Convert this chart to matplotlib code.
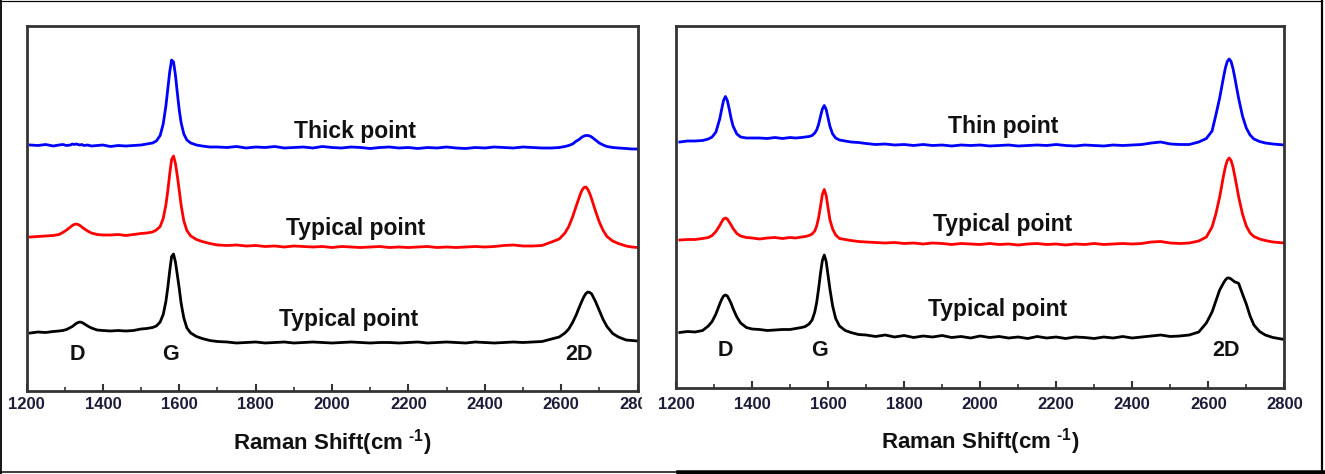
import matplotlib
matplotlib.use("Agg")
import matplotlib.pyplot as plt
from matplotlib.lines import Line2D
from matplotlib.ticker import MultipleLocator
from matplotlib.transforms import Bbox, TransformedBbox

# Raman shift grid (cm-1), denser around the D, G and 2D bands
raman_shift = [
    1210, 1230, 1250, 1270, 1285, 1295, 1305, 1315, 1320, 1325, 1330, 1335,
    1340, 1345, 1350, 1360, 1370, 1385, 1400, 1420, 1440, 1460, 1480,
    1500, 1515, 1530, 1540, 1550, 1558, 1565, 1570, 1575, 1580, 1585, 1590,
    1595, 1600, 1605, 1612, 1620, 1630, 1645, 1660, 1680,
    1700, 1725, 1750, 1775, 1800, 1825, 1850, 1875, 1900, 1925, 1950, 1975,
    2000, 2025, 2050, 2075, 2100, 2125, 2150, 2175, 2200, 2225, 2250, 2275,
    2300, 2325, 2350, 2375, 2400, 2425, 2450, 2475, 2500, 2525, 2550,
    2575, 2595, 2610, 2620, 2630, 2640, 2645, 2650, 2655, 2660, 2665, 2670,
    2675, 2680, 2690, 2700, 2710, 2720, 2735, 2750, 2770, 2785, 2800,
]

# left panel (stacked, arbitrary units)
left_thick = [
    246, 245.5, 246.5, 245, 246, 246.5, 245.5, 246, 247, 246.5, 247, 246.5,
    246, 246.5, 245.5, 246, 245, 245.5, 246, 244.5, 245.5, 245, 245.5,
    246, 247, 248, 250, 255.5, 267, 285, 302, 319, 331, 329, 316,
    298, 281, 268, 257, 251, 248, 246, 245, 244,
    244, 243.5, 244.5, 243, 244, 243.5, 244.5, 243, 243.5, 244, 243, 244.5,
    243.5, 243, 244, 243.5, 242.5, 243.5, 244, 243, 243.5, 242.5, 243.5, 243,
    244, 243, 242.5, 243.5, 243, 244, 243.5, 243, 244, 243.5, 243,
    243, 243.5, 244.5, 245.5, 247, 250, 251, 252.5, 254, 255, 255.5, 255.5,
    255, 254, 251, 248, 246, 244.5, 243.5, 243, 242.5, 242, 242,
]
left_typical_red = [
    154, 154.5, 155, 155.5, 156.5, 158.5, 161, 164, 165.5, 166.5, 167, 166.5,
    165.5, 164, 162.5, 160, 158, 156.5, 156, 156, 156.5, 155.5, 156.5,
    157.5, 158, 159, 161, 164.5, 172.5, 186, 200, 217, 231.5, 235, 227.5,
    215, 200.5, 185.5, 170, 160.5, 155, 151.5, 149.5, 147.5,
    146, 145.5, 146, 145, 145.5, 144.5, 145, 144, 145, 144.5, 144, 144.5,
    143.5, 144.5, 144, 143.5, 144, 144.5, 143.5, 144, 143.5, 144, 144.5, 143.5,
    144, 143.5, 144, 144.5, 144, 144.5, 145.5, 146, 145, 145, 145.5,
    149, 152, 158, 164.5, 174, 185.5, 191, 196.5, 201, 203.5, 204, 201.5,
    197.5, 192, 180, 169, 160.5, 154.5, 150, 147.5, 145, 144, 143.5,
]
left_typical_black = [
    58, 59, 58.5, 59.5, 60, 60.5, 61.5, 63.5, 64.5, 66, 67.5, 68.5,
    69, 68.5, 67.5, 65, 63, 61, 60.5, 60, 60.5, 60, 60.5,
    62, 62.5, 63.5, 65, 69, 76.5, 89.5, 103.5, 120, 134.5, 137, 129,
    116, 102.5, 87.5, 73, 63, 58, 54.5, 52.5, 50.5,
    49.5, 49, 48, 48.5, 49, 48, 48.5, 49, 48, 48.5, 49, 48.5,
    48, 48.5, 49, 48.5, 48, 48.5, 48.5, 48, 48.5, 49, 48, 48.5,
    49, 48.5, 48, 49, 48.5, 48, 48.5, 49, 48.5, 49, 49.5,
    52, 54, 58, 62, 68.5, 76.5, 81.5, 86, 90.5, 94.5, 97.5, 99,
    98.5, 97, 89.5, 80.5, 71.5, 64.5, 57.5, 54, 51, 50.5, 50,
]

# right panel
right_thin = [
    246, 247, 247, 247.5, 249, 251, 256, 269, 278.5, 287.5, 291.5, 287.5,
    279, 269.5, 262, 254, 251, 250, 250, 250, 249.5, 250.5, 249.5,
    250.5, 250, 250.5, 251, 251.5, 252.5, 255, 258, 263.5, 271.5, 279, 282.5,
    278.5, 270, 261.5, 254, 250, 248, 247, 246, 245.5,
    244.5, 243.5, 244, 243, 243.5, 242.5, 243.5, 242.5, 243, 242, 243, 242.5,
    243, 242, 242.5, 243, 242, 242.5, 243, 242.5, 243.5, 242.5, 242, 243,
    242.5, 242, 243, 242.5, 243, 243.5, 245, 246, 244, 243.5, 243.5,
    246, 249.5, 257, 273, 290, 310.5, 320, 326.5, 329, 326.5, 319.5, 310,
    299.5, 289.5, 272, 260, 253, 249, 246.5, 245, 244, 243.5, 243,
]
right_typical_red = [
    148, 148.5, 148.5, 149.5, 150.5, 152.5, 156.5, 162.5, 166, 169, 170, 169,
    166, 163, 159.5, 154.5, 152, 150.5, 150, 149, 150, 150.5, 149.5,
    150.5, 150, 151, 151.5, 152.5, 154, 157, 162, 170, 181.5, 193.5, 198.5,
    192.5, 180, 168, 159, 153, 149.5, 148.5, 147.5, 146.5,
    146, 145.5, 145, 145.5, 144.5, 145, 144, 145, 144.5, 143.5, 144.5, 144,
    143.5, 144.5, 143.5, 144, 143, 144, 144.5, 143.5, 144, 143, 144, 143.5,
    144.5, 143.5, 144, 144.5, 144, 144.5, 146, 146.5, 145, 144.5, 145,
    147, 151, 161, 174, 191, 212, 221, 227.5, 230, 227.5, 221, 211.5,
    201.5, 191, 174, 162, 155, 151.5, 149, 147.5, 146, 145.5, 145,
]
right_typical_black = [
    55.5, 56.5, 56, 57.5, 62, 66.5, 74, 84, 88.5, 92, 93, 92,
    88.5, 84.5, 79.5, 71, 65, 60.5, 59, 58.5, 57.5, 58, 58.5,
    58.5, 59.5, 60.5, 61.5, 64, 68, 76, 85.5, 99, 114.5, 127.5, 133,
    126.5, 112.5, 98.5, 82, 69.5, 62, 57.5, 55.5, 53.5,
    53, 51.5, 53, 51, 52.5, 50.5, 52, 51, 52.5, 50.5, 51.5, 50,
    52, 50.5, 51.5, 50, 51, 49.5, 51.5, 50, 51, 49.5, 51, 50.5,
    49.5, 51, 50, 51.5, 50, 51, 52, 53, 51.5, 52, 53,
    56, 65, 76, 87, 98, 105, 108, 110, 110, 109, 107.5, 106,
    105.5, 104.5, 94, 84, 72, 63, 56.5, 53, 50.5, 49.5, 48.5,
]

left_names = ["Thick point", "Typical point", "Typical point"]
right_names = ["Thin point", "Typical point", "Typical point"]
band_names = ["D", "G", "2D"]
x_ticks = [1200, 1400, 1600, 1800, 2000, 2200, 2400, 2600, 2800]

plt.rcParams['font.family'] = ['Liberation Sans', 'DejaVu Sans']
plt.rcParams['font.weight'] = 'bold'
plt.rcParams['mathtext.fontset'] = 'custom'
plt.rcParams['mathtext.rm'] = 'Liberation Sans:bold'
plt.rcParams['mathtext.bf'] = 'Liberation Sans:bold'
plt.rcParams['mathtext.default'] = 'bf'

TEXT = '#111111'
TICK_TEXT = '#1c1c3a'


def drawPanel(ax, curves, names, name_pos, band_pos, top, pad, label_y):
    ax.set_xlim(1200, 2800)
    ax.set_ylim(0, top)
    for ys, color in curves:
        ax.plot(raman_shift, ys, color=color, linewidth=2.0)
    for name, (x, y) in zip(names, name_pos):
        ax.text(x, y, name, ha='center', va='baseline', fontsize=16.5,
                fontweight='bold', color=TEXT)
    for name, (x, y) in zip(band_names, band_pos):
        ax.text(x, y, name, ha='center', va='baseline', fontsize=15.5,
                fontweight='bold', color=TEXT)
    ax.set_xticks(x_ticks)
    ax.xaxis.set_minor_locator(MultipleLocator(100))
    ax.tick_params(axis='x', which='major', direction='in', length=5, width=1.5,
                   color='#333333', labelsize=12, pad=pad, labelcolor=TICK_TEXT)
    ax.tick_params(axis='x', which='minor', direction='in', length=3, width=1.2,
                   color='#333333')
    ax.tick_params(axis='y', left=False, labelleft=False)
    for spine in ax.spines.values():
        spine.set_linewidth(2.0)
        spine.set_color('#333333')
    ax.set_xlabel(r'Raman Shift(cm $^{\text{-1}}$)', fontsize=16, fontweight='bold',
                  color=TEXT, va='top')
    ax.xaxis.set_label_coords(0.5, label_y)


fig = plt.figure(figsize=(13.25, 4.74), dpi=100)
ax_left = fig.add_axes([26.5 / 1325, 1 - 391 / 474, 611 / 1325, 365 / 474])
ax_right = fig.add_axes([676 / 1325, 1 - 388 / 474, 608.3 / 1325, 362 / 474])

drawPanel(ax_left,
          [(left_thick, '#0000ff'), (left_typical_red, '#ff0000'), (left_typical_black, '#000000')],
          left_names, [(2060, 253), (2063, 156), (2044, 65)],
          [(1332, 31), (1577, 31), (2647, 31)], 365, 4.5, -0.098)
drawPanel(ax_right,
          [(right_thin, '#0000ff'), (right_typical_red, '#ff0000'), (right_typical_black, '#000000')],
          right_names, [(2060, 255), (2060, 157), (2047, 72)],
          [(1331, 31.5), (1578, 31.5), (2647, 31.5)], 362, 6.5, -0.105)

# the last tick label of the left panel is cut by the panel edge
last = ax_left.xaxis.get_major_ticks()[-1].label1
last.set_clip_on(True)
last.set_clip_box(TransformedBbox(Bbox.from_extents(0, 0, 642 / 1325, 1), fig.transFigure))

# outer frame
px = 0.72
fig.add_artist(Line2D([0, 1322 / 1325], [1 - 0.5 / 474] * 2, transform=fig.transFigure, color='black', lw=1.2 * px))
fig.add_artist(Line2D([0.8 / 1325] * 2, [0, 1], transform=fig.transFigure, color='black', lw=1.8 * px))
fig.add_artist(Line2D([1322 / 1325] * 2, [0, 1], transform=fig.transFigure, color='black', lw=2.2 * px))
fig.add_artist(Line2D([0, 678 / 1325], [1 - 472 / 474] * 2, transform=fig.transFigure, color='black', lw=1.5 * px))
fig.add_artist(Line2D([678 / 1325, 1], [1 - 472 / 474] * 2, transform=fig.transFigure, color='black', lw=4.5 * px))

fig.savefig('out.png', dpi=100)
